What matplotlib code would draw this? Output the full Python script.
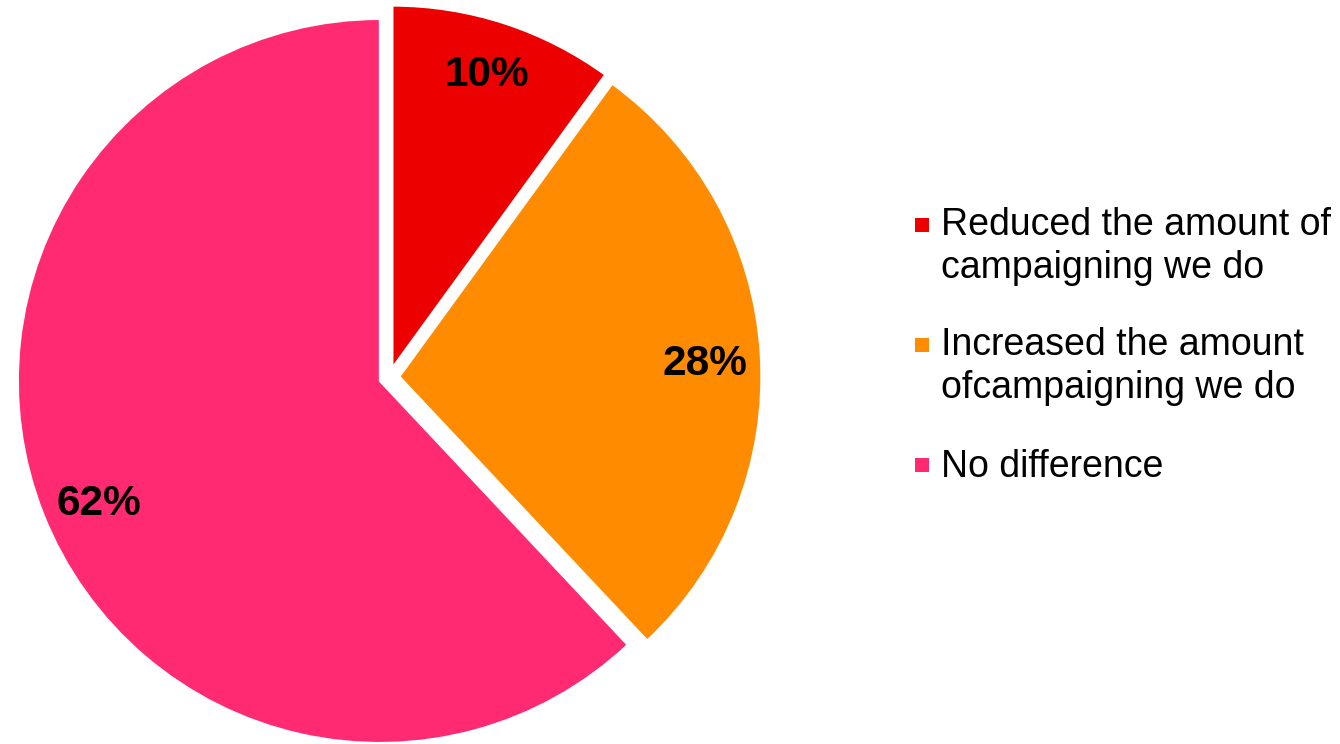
import matplotlib.pyplot as plt
from matplotlib.patches import Rectangle

# --- data ---
labels = ["Reduced the amount of\ncampaigning we do",
          "Increased the amount\nofcampaigning we do",
          "No difference"]
shares = [10, 28, 62]
colors = ["#EC0000", "#FF8C00", "#FF2A72"]

plt.rcParams['font.family'] = ['Liberation Sans', 'DejaVu Sans']

W, H = 1340, 744
PX = 1 / 362  # data units per pixel in the pie axes
fig = plt.figure(figsize=(W / 100, H / 100), dpi=100)
fig.patch.set_facecolor('white')

# pie axes on the left part of the canvas
ax = fig.add_axes([0, 0, 780 / W, 1])
wedges, texts, autotexts = ax.pie(
    shares, colors=colors, startangle=90, counterclock=False,
    explode=[0.028] * len(shares), radius=1,
    autopct=lambda p: f'{p:.0f}%', pctdistance=0.85,
    wedgeprops=dict(edgecolor='white', linewidth=1.5),
    textprops=dict(fontsize=30.5, fontweight='bold', color='black'))
ax.set_xlim(-1.0754, 1.0793)
ax.set_ylim(-1.013, 1.042)

# small nudges (pixels, x right / y down) so labels sit like the original
nudges = [(-1, 0), (-2, 7), (5, 10)]
for t, (nx, ny) in zip(autotexts, nudges):
    x, y = t.get_position()
    t.set_position((x + nx * PX, y - ny * PX))

# legend drawn by hand: small square + label, one block per slice
sq = 14
line_h = 41
first_baselines = [237, 357, 477]
for lab, col, base in zip(labels, colors, first_baselines):
    fig.patches.append(Rectangle((915 / W, (H - base + 5) / H), sq / W, sq / H,
                                 transform=fig.transFigure, facecolor=col,
                                 edgecolor='none'))
    last = base + line_h * lab.count("\n")
    fig.text(941 / W, (H - last) / H, lab, fontsize=27, color='black',
             va='baseline', ha='left', linespacing=1.24)

fig.savefig("out.png", dpi=100)
